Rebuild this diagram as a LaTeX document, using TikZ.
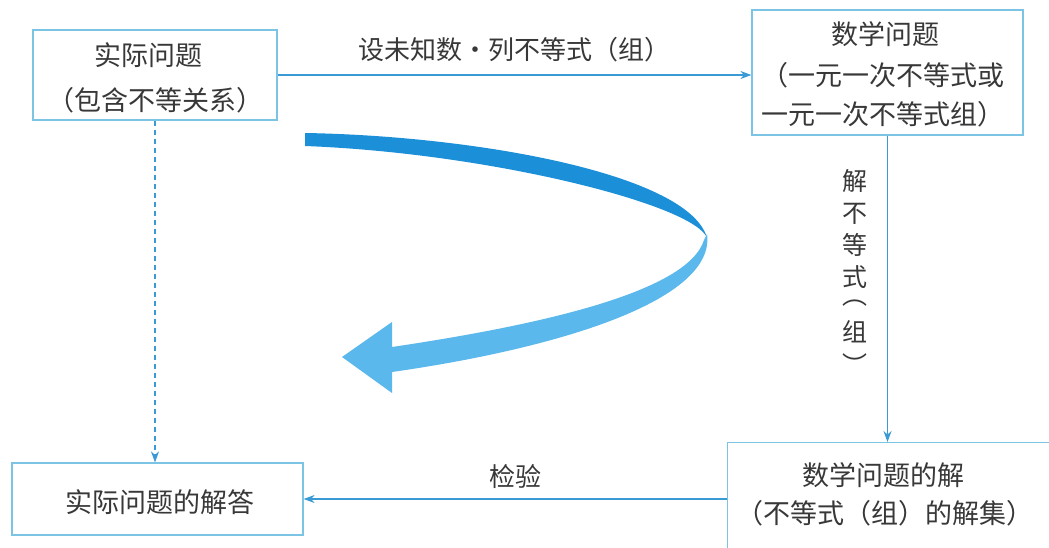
\documentclass[tikz,border=0pt]{standalone}
\usepackage{fontspec}
\newfontfamily\cjk{Noto Sans CJK SC}
\usetikzlibrary{arrows.meta}
\definecolor{frameblue}{HTML}{7CC4E4}
\definecolor{lineblue}{HTML}{3A9AD6}
\definecolor{txt}{HTML}{383838}
\definecolor{ribdark}{HTML}{1C8FD9}
\definecolor{riblight}{HTML}{5AB8EC}
\begin{document}
\begin{tikzpicture}[x=1pt,y=-1pt,
  box/.style={draw=frameblue, line width=1.2pt, rectangle, inner sep=0pt},
  txtnode/.style={font=\cjk\fontsize{27}{32}\selectfont, text=txt, inner sep=0pt},
  lbl/.style={font=\cjk\fontsize{26}{30}\selectfont, text=txt, inner sep=0pt},
  conn/.style={draw=lineblue, line width=1.4pt, -{Stealth[length=11pt,width=8pt]}},
]
\path[use as bounding box] (0,0) rectangle (1049,548);
\clip (0,0) rectangle (1049,548);
\fill[white] (0,0) rectangle (1049,548);

% boxes
\node[box, minimum width=244pt, minimum height=90pt] (b1) at (155,75) {};
\node[box, minimum width=271pt, minimum height=125pt] (b2) at (887.5,72.5) {};
\node[box, minimum width=346pt, minimum height=120pt, anchor=north west] (b3) at (727,442) {};
\node[box, minimum width=291pt, minimum height=72pt] (b4) at (157.5,499) {};

% box texts
\node[txtnode] (t1a) at (148,55) {实际问题};
\node[txtnode] (t1b) at (155,100) {（包含不等关系）};
\node[txtnode] (t2a) at (885,34) {数学问题};
\node[txtnode] (t2b) at (883,75) {（一元一次不等式或};
\node[txtnode] (t2c) at (883,114) {一元一次不等式组）};
\node[txtnode] (t3a) at (883,475) {数学问题的解};
\node[txtnode] (t3b) at (885,513) {（不等式（组）的解集）};
\node[txtnode] (t4) at (160,502) {实际问题的解答};

% connectors
\draw[conn] (b1.east) -- (b2.west |- b1.east)
  node[lbl, midway, above=12pt] (l1) {设未知数・列不等式（组）};
\draw[conn] (b2.south) -- (b2.south |- b3.north);
\node[lbl, font=\cjk\fontsize{25}{32}\selectfont, align=center, anchor=north] (l2) at (855,169)
  {解\\不\\等\\式\\[-14pt]︵\\[5pt]组\\[1pt]︶};
\draw[conn] (b3.west |- b4.east) -- (b4.east) node[lbl, midway, above=10pt] (l3) {检验};
\draw[conn, dashed, dash pattern=on 5pt off 4pt, line width=1.2pt] (b1.south) -- (b1.south |- b4.north);

% big curved ribbon arrow
\fill[ribdark] (305,133) .. controls (480,136) and (690,175) .. (707,238)
  .. controls (695,205) and (490,153) .. (305,146) -- cycle;
\fill[riblight] (707,234) .. controls (716,300) and (560,348) .. (392,372)
  -- (392,393) -- (342,357) -- (392,322) -- (392,347)
  .. controls (540,325) and (688,292) .. (704,240) -- cycle;
\end{tikzpicture}
\end{document}
